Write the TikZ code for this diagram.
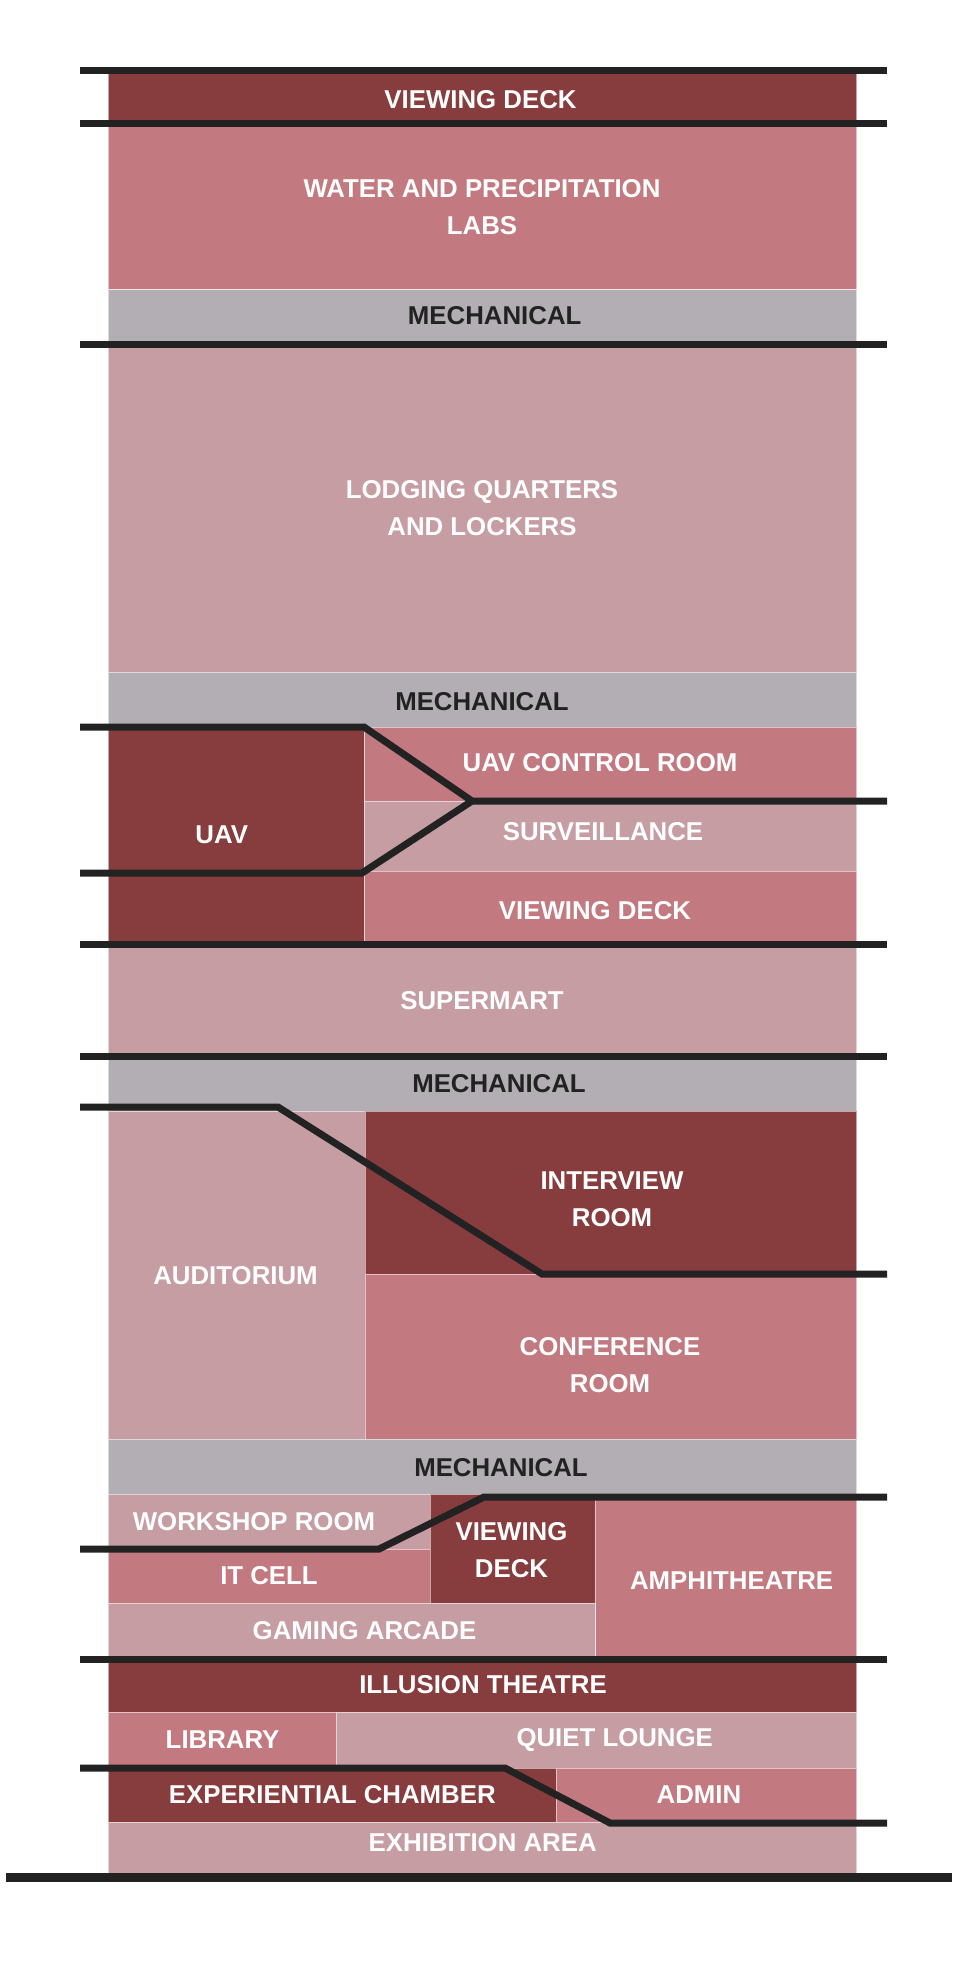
\documentclass[tikz,border=0pt]{standalone}
\usepackage{fontspec}
\setmainfont{Liberation Sans}
\definecolor{dred}{HTML}{873C3D}
\definecolor{mred}{HTML}{C27980}
\definecolor{lred}{HTML}{C59DA3}
\definecolor{mgray}{HTML}{B2AEB3}
\definecolor{ink}{HTML}{222222}
\tikzset{
  blk/.style={draw=white, draw opacity=0.55, line width=0.8pt},
  lbl/.style={text=white, font=\bfseries\fontsize{25.8}{37}\selectfont, inner sep=0pt, align=center},
  mlbl/.style={lbl, text=ink},
  floorline/.style={draw=ink, line width=7pt, line join=miter, line cap=butt},
}
\begin{document}
\begin{tikzpicture}[x={(1pt,0)}, y={(0,-1pt)}]
\useasboundingbox (0,0) rectangle (972,1974);
% blocks
\fill[dred,blk]  (108.3,70.5) rectangle (856.7,123.5);
\fill[mred,blk]  (108.3,123.5) rectangle (856.7,289.5);
\fill[mgray,blk] (108.3,289.5) rectangle (856.7,344.5);
\fill[lred,blk]  (108.3,344.5) rectangle (856.7,672);
\fill[mgray,blk] (108.3,672) rectangle (856.7,727);
\fill[dred,blk]  (108.3,727) rectangle (364.5,944);
\fill[mred,blk]  (364.5,727) rectangle (856.7,801);
\fill[lred,blk]  (364.5,801) rectangle (856.7,871);
\fill[mred,blk]  (364.5,871) rectangle (856.7,944);
\fill[lred,blk]  (108.3,944) rectangle (856.7,1056.5);
\fill[mgray,blk] (108.3,1056.5) rectangle (856.7,1111);
\fill[lred,blk]  (108.3,1111) rectangle (365,1439);
\fill[dred,blk]  (365,1111) rectangle (856.7,1274);
\fill[mred,blk]  (365,1274) rectangle (856.7,1439);
\fill[mgray,blk] (108.3,1439) rectangle (856.7,1494);
\fill[lred,blk]  (108.3,1494) rectangle (430,1549);
\fill[mred,blk]  (108.3,1549) rectangle (430,1603);
\fill[dred,blk]  (430,1494) rectangle (595,1603);
\fill[mred,blk]  (595,1494) rectangle (856.7,1659);
\fill[lred,blk]  (108.3,1603) rectangle (595,1659);
\fill[dred,blk]  (108.3,1659) rectangle (856.7,1712);
\fill[mred,blk]  (108.3,1712) rectangle (336,1768);
\fill[lred,blk]  (336,1712) rectangle (856.7,1768);
\fill[dred,blk]  (108.3,1768) rectangle (556,1822);
\fill[mred,blk]  (556,1768) rectangle (856.7,1822);
\fill[lred,blk]  (108.3,1822) rectangle (856.7,1877);
% labels
\node[lbl]  (vd1)  at (480.5,100)  {VIEWING DECK};
\node[lbl]  (wpl)  at (482,207.4)  {WATER AND PRECIPITATION\\LABS};
\node[mlbl] (mec1) at (494.7,316)  {MECHANICAL};
\node[lbl]  (lql)  at (482,508.5)  {LODGING QUARTERS\\AND LOCKERS};
\node[mlbl] (mec2) at (482,702)    {MECHANICAL};
\node[lbl]  (uav)  at (221.7,835)  {UAV};
\node[lbl]  (ucr)  at (600,762.5)  {UAV CONTROL ROOM};
\node[lbl]  (sur)  at (603,832)    {SURVEILLANCE};
\node[lbl]  (vd2)  at (595,911)    {VIEWING DECK};
\node[lbl]  (sup)  at (482,1001)   {SUPERMART};
\node[mlbl] (mec3) at (499,1084)   {MECHANICAL};
\node[lbl]  (int)  at (612,1199.5) {INTERVIEW\\ROOM};
\node[lbl]  (aud)  at (235.5,1275.5) {AUDITORIUM};
\node[lbl]  (con)  at (610,1365)   {CONFERENCE\\ROOM};
\node[mlbl] (mec4) at (501,1467.5) {MECHANICAL};
\node[lbl]  (wsr)  at (254,1522)   {WORKSHOP ROOM};
\node[lbl]  (itc)  at (269,1576)   {IT CELL};
\node[lbl]  (vd3)  at (511.5,1550) {VIEWING\\DECK};
\node[lbl]  (amp)  at (731.6,1581) {AMPHITHEATRE};
\node[lbl]  (gam)  at (364.5,1631) {GAMING ARCADE};
\node[lbl]  (ill)  at (483,1685)   {ILLUSION THEATRE};
\node[lbl]  (lib)  at (222.6,1740) {LIBRARY};
\node[lbl]  (qui)  at (614.7,1740) {QUIET LOUNGE};
\node[lbl]  (exp)  at (332.3,1794.5) {EXPERIENTIAL CHAMBER};
\node[lbl]  (adm)  at (699,1794.5) {ADMIN};
\node[lbl]  (exh)  at (482.7,1843) {EXHIBITION AREA};
% floor lines
\draw[floorline] (80,70.5) -- (887,70.5);
\draw[floorline] (80,123.5) -- (887,123.5);
\draw[floorline] (80,344.5) -- (887,344.5);
\draw[floorline] (80,727) -- (364,727) -- (472,801) -- (887,801);
\draw[floorline] (80,873) -- (362,873) -- (472,801);
\draw[floorline] (80,944) -- (887,944);
\draw[floorline] (80,1056.5) -- (887,1056.5);
\draw[floorline] (80,1107) -- (278,1107) -- (542,1274) -- (887,1274);
\draw[floorline] (887,1497) -- (484,1497) -- (379,1549) -- (80,1549);
\draw[floorline] (80,1659) -- (887,1659);
\draw[floorline] (80,1768) -- (505,1768) -- (610,1823) -- (887,1823);
\draw[floorline, line width=9pt] (6,1877) -- (952,1877);
\end{tikzpicture}
\end{document}
